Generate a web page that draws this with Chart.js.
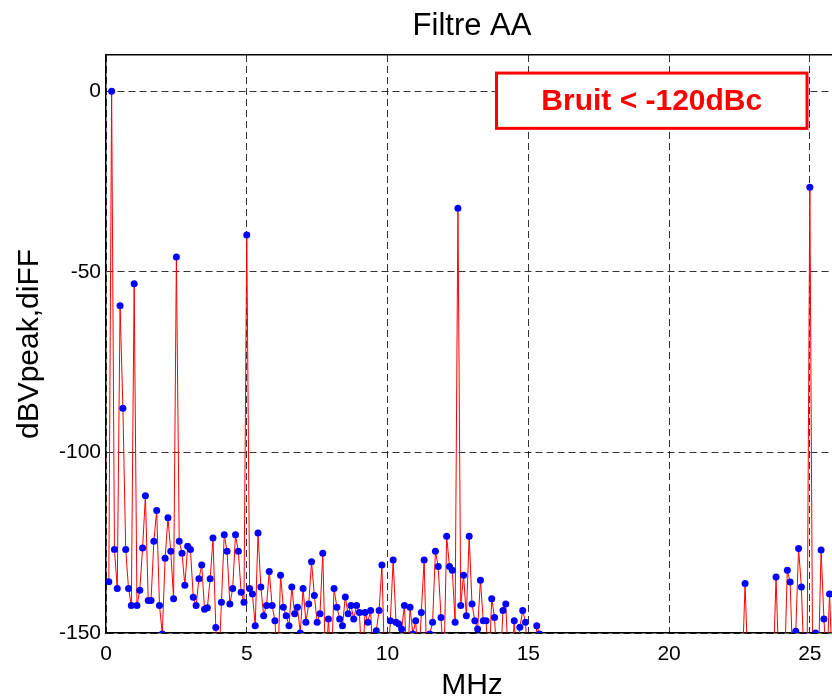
<!DOCTYPE html>
<html>
<head>
<meta charset="utf-8">
<script src="https://cdn.jsdelivr.net/npm/chart.js@4.4.0/dist/chart.umd.min.js"></script>
<style>
html,body{margin:0;padding:0;background:#fff;overflow:hidden;}
#wrap{width:832px;height:700px;overflow:hidden;position:relative;background:#fff;}
canvas{display:block;}
</style>
</head>
<body>
<div id="wrap"><canvas id="c" width="850" height="700" style="width:850px;height:700px"></canvas></div>
<script>
// Spectrum bins (MHz). Values below -150 dBc lie under the axis floor and are clipped.
const freqMHz = [
  0.1,0.2,0.3,0.4,0.5,0.6,0.7,0.8,0.9,1.0,
  1.1,1.2,1.3,1.4,1.5,1.6,1.7,1.8,1.9,2.0,
  2.1,2.2,2.3,2.4,2.5,2.6,2.7,2.8,2.9,3.0,
  3.1,3.2,3.3,3.4,3.5,3.6,3.7,3.8,3.9,4.0,
  4.1,4.2,4.3,4.4,4.5,4.6,4.7,4.8,4.9,5.0,
  5.1,5.2,5.3,5.4,5.5,5.6,5.7,5.8,5.9,6.0,
  6.1,6.2,6.3,6.4,6.5,6.6,6.7,6.8,6.9,7.0,
  7.1,7.2,7.3,7.4,7.5,7.6,7.7,7.8,7.9,8.0,
  8.1,8.2,8.3,8.4,8.5,8.6,8.7,8.8,8.9,9.0,
  9.1,9.2,9.3,9.4,9.5,9.6,9.7,9.8,9.9,10.0,
  10.1,10.2,10.3,10.4,10.5,10.6,10.7,10.8,10.9,11.0,
  11.1,11.2,11.3,11.4,11.5,11.6,11.7,11.8,11.9,12.0,
  12.1,12.2,12.3,12.4,12.5,12.6,12.7,12.8,12.9,13.0,
  13.1,13.2,13.3,13.4,13.5,13.6,13.7,13.8,13.9,14.0,
  14.1,14.2,14.3,14.4,14.5,14.6,14.7,14.8,14.9,15.0,
  15.1,15.2,15.3,15.4,15.5,
  22.6,22.7,22.8,
  23.7,23.8,23.9,24.0,24.1,24.2,24.3,24.4,24.5,24.6,
  24.7,24.8,24.9,25.0,25.1,25.2,25.3,25.4,25.5,25.6,
  25.7,25.8,25.9,26.0
];
const levelDbc = [
  -135.8,0,-126.9,-137.7,-59.4,-87.8,-126.9,-137.7,-142.4,-53.3,
  -142.4,-138.2,-126.5,-112.0,-141.0,-141.0,-124.6,-116.1,-142.4,-150.3,
  -129.3,-118.1,-127.4,-140.5,-45.9,-124.6,-127.9,-136.8,-126.0,-126.9,
  -140.1,-142.4,-135.0,-131.2,-143.4,-143.0,-135.0,-123.7,-148.5,-160,
  -141.5,-122.8,-127.4,-142.0,-137.7,-122.8,-127.4,-138.7,-141.5,-39.8,
  -137.7,-139.2,-148.0,-122.3,-137.3,-145.2,-142.4,-133.0,-142.4,-146.6,
  -160,-134.0,-142.9,-145.2,-148.0,-137.3,-144.7,-142.9,-150.0,-137.7,
  -147.0,-142.0,-130.3,-139.6,-147.0,-144.7,-127.9,-160,-146.1,-160,
  -137.7,-142.9,-146.1,-148.0,-140.0,-144.7,-142.4,-146.1,-142.4,-144.3,
  -160,-144.3,-147.0,-143.8,-160,-149.4,-143.8,-131.2,-160,-160,
  -146.6,-129.8,-147.0,-147.5,-148.9,-142.4,-160,-142.9,-150.3,-146.6,
  -160,-144.3,-129.8,-160,-150.3,-147.0,-127.4,-131.6,-145.7,-160,
  -123.2,-131.6,-132.6,-147.0,-32.4,-142.4,-134.0,-145.2,-123.2,-142.0,
  -146.6,-148.9,-135.4,-146.6,-146.6,-160,-140.5,-145.7,-160,-160,
  -143.8,-142.0,-160,-160,-146.6,-160,-148.4,-143.8,-147.0,-160,
  -160,-160,-148.0,-150.3,-160,
  -160,-136.3,-160,
  -160,-134.5,-160,-160,-160,-132.6,-135.9,-160,-149.5,-126.6,
  -137.3,-160,-160,-26.6,-160,-150.0,-160,-127.0,-146.1,-160,
  -139.2,-160,-160,-160
];
const xTickValues = [0, 5, 10, 15, 20, 25];
const yTickValues = [-150, -100, -50, 0];
const chartTitle = 'Filtre AA';
const xAxisTitle = 'MHz';
const yAxisTitle = 'dBVpeak,diFF';
const noteText = 'Bruit < -120dBc';

const points = freqMHz.map((f, i) => ({x: f, y: levelDbc[i]}));

const FONT = "'Liberation Sans', Arial, Helvetica, sans-serif";

const noteBoxPlugin = {
  id: 'noteBox',
  afterDatasetsDraw(chart) {
    const {ctx, scales: {x, y}} = chart;
    const left = x.getPixelForValue(13.87), right = x.getPixelForValue(24.9);
    const top = y.getPixelForValue(5.0), bottom = y.getPixelForValue(-10.3);
    ctx.save();
    ctx.fillStyle = '#ffffff';
    ctx.fillRect(left, top, right - left, bottom - top);
    ctx.strokeStyle = '#ff0000';
    ctx.lineWidth = 3;
    ctx.strokeRect(left, top, right - left, bottom - top);
    ctx.fillStyle = '#ff0000';
    ctx.font = 'bold 30px ' + FONT;
    ctx.textAlign = 'center';
    ctx.textBaseline = 'middle';
    ctx.fillText(noteText, (left + right) / 2, (top + bottom) / 2 + 1);
    ctx.restore();
  }
};

new Chart(document.getElementById('c'), {
  type: 'line',
  data: {
    datasets: [{
      data: points,
      borderColor: '#ff0000',
      borderWidth: 1,
      pointBackgroundColor: '#0000ff',
      pointBorderColor: '#0000ff',
      pointBorderWidth: 0,
      pointRadius: 3.5,
      tension: 0,
      fill: false
    }]
  },
  options: {
    responsive: false,
    animation: false,
    devicePixelRatio: 1,
    layout: {padding: {left: 0, right: 12, top: 0, bottom: 0}},
    plugins: {legend: {display: false}, title: {display: false}, tooltip: {enabled: false}},
    scales: {
      x: {
        type: 'linear', position: 'bottom', min: 0, max: 26,
        afterBuildTicks: s => { s.ticks = xTickValues.map(v => ({value: v})); },
        afterFit: s => { s.height = 67; },
        grid: {color: 'rgba(0,0,0,0.8)', lineWidth: 1, drawTicks: false},
        border: {display: true, color: '#000', width: 1.5, dash: [7, 4]},
        ticks: {color: '#000', font: {family: FONT, size: 21}, padding: 9, maxRotation: 0,
                callback: v => String(v)},
        title: {display: true, text: xAxisTitle, color: '#000', font: {family: FONT, size: 30, lineHeight: 1}, padding: {top: 0, bottom: -1}}
      },
      x2: {
        type: 'linear', position: 'top', min: 0, max: 26,
        afterFit: s => { s.height = 55; },
        grid: {display: true, drawOnChartArea: false, drawTicks: false},
        border: {display: true, color: '#000', width: 1.5},
        ticks: {display: false},
        title: {display: true, text: chartTitle, color: '#000', font: {family: FONT, size: 31}, padding: {top: 8, bottom: 0}}
      },
      y: {
        type: 'linear', position: 'left', min: -150, max: 10,
        afterBuildTicks: s => { s.ticks = yTickValues.map(v => ({value: v})); },
        afterFit: s => { s.width = 106; },
        grid: {color: 'rgba(0,0,0,0.8)', lineWidth: 1, drawTicks: false},
        border: {display: true, color: '#000', width: 1.5, dash: [7, 4]},
        ticks: {color: '#000', font: {family: FONT, size: 21}, padding: 5,
                callback: v => String(v)},
        title: {display: true, text: yAxisTitle, color: '#000', font: {family: FONT, size: 30}, padding: {top: 12, bottom: 0}}
      }
    }
  },
  plugins: [noteBoxPlugin]
});
</script>
</body>
</html>
